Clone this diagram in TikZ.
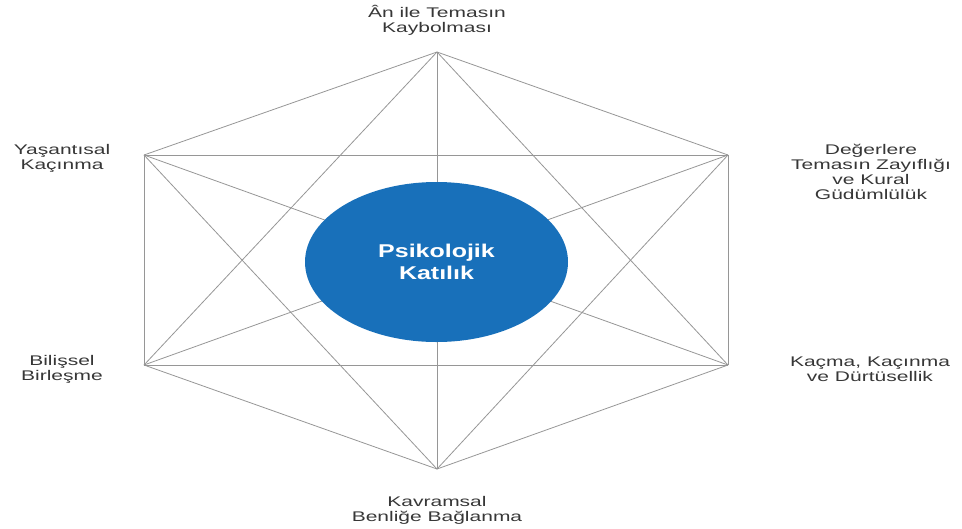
\documentclass[tikz,border=0pt]{standalone}
\usepackage{fontspec}
\setmainfont{Liberation Sans}[FakeStretch=1.5]
\newfontfamily\centerfont{Liberation Sans}[FakeStretch=1.35]
\usepackage{xcolor}
\usepackage{tikz}
\usetikzlibrary{shapes.geometric}
\definecolor{hexblue}{RGB}{24,112,186}
\definecolor{hexline}{RGB}{150,150,150}
\definecolor{hextext}{RGB}{55,55,55}

\begin{document}
\begin{tikzpicture}[x=1pt, y=-1pt, every node/.style={font=\fontsize{14}{15}\selectfont, text=hextext, align=center}]
        \useasboundingbox (0,0) rectangle (962,528);

        \foreach \x/\y/\name in {437/52/v1,728/155/v2,728/365/v3,437/469/v4,144/365/v5,144/155/v6} {
            \coordinate (\name) at (\x,\y);
        }
        % every corner joined to every other one
        \foreach \i in {1,...,5} {
            \pgfmathtruncatemacro{\j}{\i+1}
            \foreach \k in {\j,...,6} {
                \draw[hexline, line width=0.8pt] (v\i) -- (v\k);
            }
        }

        \node[ellipse, fill=hexblue, minimum width=263pt, minimum height=160pt, inner sep=0pt,
              text=white, font=\centerfont\bfseries\fontsize{18.5}{22.5}\selectfont] (core) at (436.5,262) {Psikolojik\\Katılık};

        \node (top) at (437,20) {Ân ile Temasın\\Kaybolması};
        \node (ul) at (62,158) {Yaşantısal\\Kaçınma};
        \node (ur) at (871,172) {Değerlere\\Temasın Zayıflığı\\ve Kural\\Güdümlülük};
        \node (ll) at (62,369) {Bilişsel\\Birleşme};
        \node (lr) at (870,369) {Kaçma, Kaçınma\\ve Dürtüsellik};
        \node (bot) at (437,510) {Kavramsal\\Benliğe Bağlanma};
    \end{tikzpicture}
\end{document}
